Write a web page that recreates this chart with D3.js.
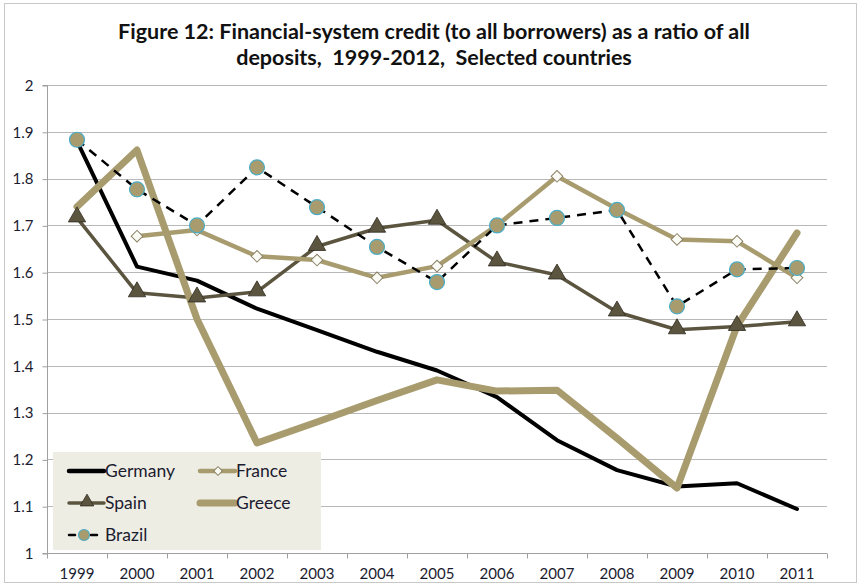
<!DOCTYPE html>
<html>
<head>
<meta charset="utf-8">
<script src="https://cdn.jsdelivr.net/npm/d3@7/dist/d3.min.js"></script>
<style>
  html, body { margin: 0; padding: 0; background: #fff; }
  svg { display: block; }
  text { white-space: pre; }
</style>
</head>
<body>
<svg id="chart" width="861" height="586"></svg>
<script>
// Financial-system credit / deposits ratio, 1999-2011
const years = ["1999","2000","2001","2002","2003","2004","2005","2006","2007","2008","2009","2010","2011"];
const germany = [1.88, 1.612, 1.582, 1.522, 1.476, 1.430, 1.390, 1.333, 1.241, 1.177, 1.142, 1.149, 1.094];
const france  = [null, 1.677, 1.690, 1.634, 1.626, 1.588, 1.613, 1.700, 1.805, 1.735, 1.670, 1.666, 1.588];
const spain   = [1.716, 1.556, 1.545, 1.558, 1.655, 1.694, 1.711, 1.622, 1.594, 1.515, 1.477, 1.484, 1.494];
const greece  = [1.740, 1.861, 1.500, 1.235, 1.280, 1.326, 1.370, 1.346, 1.348, 1.245, 1.139, 1.485, 1.684];
const brazil  = [1.883, 1.777, 1.700, 1.824, 1.739, 1.654, 1.579, 1.700, 1.716, 1.733, 1.527, 1.606, 1.609];
const yTicks = [1, 1.1, 1.2, 1.3, 1.4, 1.5, 1.6, 1.7, 1.8, 1.9, 2];
const titleLines = ["Figure 12: Financial-system credit (to all borrowers) as a ratio of all",
                    "deposits,  1999-2012,  Selected countries"];

const TAN = "#a89c6f", OLIVE = "#5b5540", TEAL = "#4bacc6", INK = "#1c1c30";
const FONT = "Lato, 'Open Sans', sans-serif";

const svg = d3.select("#chart");
const plot = { left: 47, right: 827, top: 85, bottom: 553 };

// outer frame
svg.append("rect").attr("x", 4.5).attr("y", 3.5).attr("width", 852).attr("height", 579)
  .attr("fill", "#fff").attr("stroke", "#c8c8c8").attr("stroke-width", 1);

const x = d3.scaleBand().domain(years).range([plot.left, plot.right]).paddingInner(0).paddingOuter(0);
const y = d3.scaleLinear().domain([1, 2]).range([plot.bottom, plot.top]);
const cx = d => x(d) + x.bandwidth() / 2;

// horizontal gridlines
svg.append("g").selectAll("line").data(yTicks.slice(1)).join("line")
  .attr("x1", plot.left).attr("x2", plot.right)
  .attr("y1", d => Math.round(y(d)) + 0.5).attr("y2", d => Math.round(y(d)) + 0.5)
  .attr("stroke", "#b8b8b8").attr("stroke-width", 1);

// y axis
const yAxis = d3.axisLeft(y).tickValues(yTicks).tickSize(5).tickPadding(9)
  .tickFormat(d => String(+d.toFixed(1)));
const gy = svg.append("g").attr("transform", `translate(${plot.left + 0.5},0.5)`).call(yAxis);
gy.select(".domain").attr("stroke", "#a0a0a0").attr("d", `M-5,${y(1)}H0V${y(2)}H-5`);
gy.selectAll(".tick line").attr("stroke", "#a0a0a0");
gy.selectAll(".tick text").attr("font-family", FONT).attr("font-size", 15).attr("fill", INK);

// x axis with ticks at category boundaries
const gx = svg.append("g").attr("transform", `translate(0,${plot.bottom + 0.5})`);
gx.append("line").attr("x1", plot.left).attr("x2", plot.right).attr("stroke", "#a0a0a0");
const bounds = years.map(d => x(d)).concat([plot.right]);
gx.selectAll("line.tk").data(bounds).join("line").attr("class", "tk")
  .attr("x1", d => Math.round(d) + 0.5).attr("x2", d => Math.round(d) + 0.5)
  .attr("y1", 0).attr("y2", 5).attr("stroke", "#a0a0a0");
gx.selectAll("text").data(years).join("text")
  .attr("x", d => cx(d)).attr("y", 25).attr("text-anchor", "middle")
  .attr("font-family", FONT).attr("font-size", 15).attr("fill", INK).text(d => d);

const line = d3.line().defined(d => d.v != null).x(d => cx(d.year)).y(d => y(d.v));
const pts = arr => years.map((yr, i) => ({ year: yr, v: arr[i] }));

const lines = svg.append("g").attr("fill", "none").attr("stroke-linejoin", "round");

// Germany
lines.append("path").datum(pts(germany)).attr("d", line)
  .attr("stroke", "#000").attr("stroke-width", 4).attr("stroke-linecap", "round");
// Spain
lines.append("path").datum(pts(spain)).attr("d", line)
  .attr("stroke", OLIVE).attr("stroke-width", 3.5);
// Greece
lines.append("path").datum(pts(greece)).attr("d", line)
  .attr("stroke", TAN).attr("stroke-width", 7).attr("stroke-linecap", "round");
// France
lines.append("path").datum(pts(france)).attr("d", line)
  .attr("stroke", TAN).attr("stroke-width", 4.5);
// Brazil
lines.append("path").datum(pts(brazil)).attr("d", line)
  .attr("stroke", "#000").attr("stroke-width", 2.5).attr("stroke-dasharray", "9,7");

// markers
const tri = d3.symbol().type(d3.symbolTriangle).size(130);
const triSmall = d3.symbol().type(d3.symbolTriangle).size(80);
const sq = d3.symbol().type(d3.symbolSquare).size(68);
const sqSmall = d3.symbol().type(d3.symbolSquare).size(38);

svg.append("g").selectAll("path").data(pts(spain)).join("path")
  .attr("transform", d => `translate(${cx(d.year)},${y(d.v) - 1})`).attr("d", tri)
  .attr("fill", OLIVE).attr("stroke", "#2e2a1e").attr("stroke-width", 0.8);

svg.append("g").selectAll("path").data(pts(france).filter(d => d.v != null)).join("path")
  .attr("transform", d => `translate(${cx(d.year)},${y(d.v)}) rotate(45)`).attr("d", sq)
  .attr("fill", "#fbfbf5").attr("stroke", "#8a8066").attr("stroke-width", 1);

svg.append("g").selectAll("circle").data(pts(brazil)).join("circle")
  .attr("cx", d => cx(d.year)).attr("cy", d => y(d.v)).attr("r", 7.5)
  .attr("fill", TAN).attr("stroke", TEAL).attr("stroke-width", 1.2);

// title
svg.append("g").selectAll("text").data(titleLines).join("text")
  .attr("x", 434).attr("y", (d, i) => 39 + i * 26).attr("text-anchor", "middle")
  .attr("font-family", FONT).attr("font-weight", "bold").attr("font-size", 21.5)
  .attr("fill", "#111").text(d => d);

// legend
const leg = svg.append("g");
leg.append("rect").attr("x", 53).attr("y", 452).attr("width", 268).attr("height", 98).attr("fill", "#eeede4");
const legItems = [
  { name: "Germany", col: 0, row: 0, stroke: "#000", w: 4.5, mark: null },
  { name: "France", col: 1, row: 0, stroke: TAN, w: 4.5, mark: "dia" },
  { name: "Spain", col: 0, row: 1, stroke: OLIVE, w: 3.5, mark: "tri" },
  { name: "Greece", col: 1, row: 1, stroke: TAN, w: 7, mark: null },
  { name: "Brazil", col: 0, row: 2, stroke: "#000", w: 2.5, mark: "circ" }
];
legItems.forEach(it => {
  const x0 = it.col ? 200 : 69, y0 = 471 + it.row * 32;
  const g = leg.append("g");
  const len = it.mark === "circ" ? 30 : 35;
  g.append("line").attr("x1", x0).attr("x2", x0 + len).attr("y1", y0).attr("y2", y0)
    .attr("stroke", it.stroke).attr("stroke-width", it.w).attr("stroke-linecap", "round")
    .attr("stroke-dasharray", it.mark === "circ" ? "6,5" : null);
  const mx = x0 + (it.mark === "circ" ? 15 : 18);
  if (it.mark === "dia") g.append("path").attr("transform", `translate(${mx},${y0}) rotate(45)`).attr("d", sqSmall)
    .attr("fill", "#fbfbf5").attr("stroke", "#8a8066");
  if (it.mark === "tri") g.append("path").attr("transform", `translate(${mx},${y0 - 1})`).attr("d", triSmall)
    .attr("fill", OLIVE).attr("stroke", "#2e2a1e").attr("stroke-width", 0.8);
  if (it.mark === "circ") g.append("circle").attr("cx", mx).attr("cy", y0).attr("r", 5.5)
    .attr("fill", TAN).attr("stroke", TEAL).attr("stroke-width", 1.2);
  g.append("text").attr("x", x0 + 36).attr("y", y0 + 6)
    .attr("font-family", FONT).attr("font-size", 17.5).attr("fill", INK).text(it.name);
});
</script>
</body>
</html>
